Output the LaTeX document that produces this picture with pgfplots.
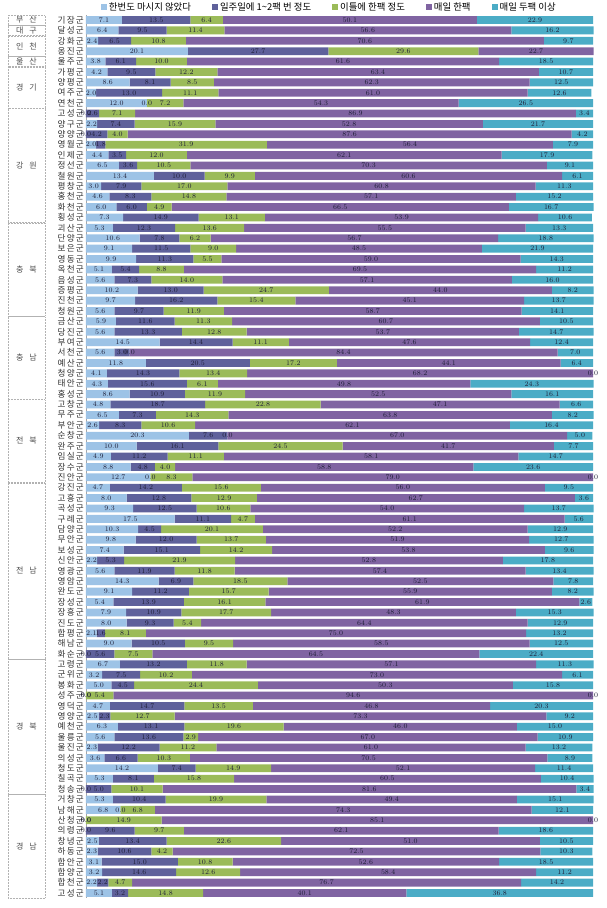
\documentclass[border=0pt]{standalone}
\usepackage{pgfplots}
\pgfplotsset{compat=1.18}
\usepackage{pgfplotstable}
\usepackage{fontspec}
\setmainfont{Noto Sans CJK KR}
\newfontfamily\krsp{Noto Sans CJK KR}[LetterSpace=14]
\newfontfamily\numfont{DejaVu Sans}[LetterSpace=16]
\definecolor{c1}{RGB}{157,195,230}
\definecolor{c2}{RGB}{95,97,155}
\definecolor{c3}{RGB}{155,187,89}
\definecolor{c4}{RGB}{128,100,162}
\definecolor{c5}{RGB}{75,172,198}
\definecolor{lbl}{RGB}{30,30,55}
\newcommand{\regbox}[4]{%
  \draw[gray!60, densely dotted, line width=0.5pt] (axis cs:-15.4,#1) rectangle (axis cs:-8.1,#2);
  \node[font=\fontsize{8pt}{9pt}\selectfont, text=black!70] at (axis cs:-11.75,#3) {#4};}
\pgfplotstableread{
idx name a b c d e
1 기장군 7.1 13.5 6.4 50.1 22.9
2 달성군 6.4 9.5 11.4 56.6 16.2
3 강화군 2.4 6.5 10.8 70.6 9.7
4 옹진군 20.1 27.7 29.6 22.7 0.0
5 울주군 3.8 6.1 10.0 61.6 18.5
6 가평군 4.2 9.5 12.2 63.4 10.7
7 양평군 8.6 8.1 8.5 62.3 12.5
8 여주군 2.0 13.0 11.1 61.0 12.6
9 연천군 12.0 0.0 7.2 54.3 26.5
10 고성군 0.0 2.6 7.1 86.9 3.4
11 양구군 2.2 7.4 15.9 52.8 21.7
12 양양군 0.0 4.2 4.0 87.6 4.2
13 영월군 2.0 1.8 31.9 56.4 7.9
14 인제군 4.4 3.5 12.0 62.1 17.9
15 정선군 6.5 3.6 10.5 70.3 9.1
16 철원군 13.4 10.0 9.9 60.6 6.1
17 평창군 3.0 7.9 17.0 60.8 11.3
18 홍천군 4.6 8.3 14.8 57.1 15.2
19 화천군 6.0 6.0 4.9 66.5 16.7
20 횡성군 7.3 14.9 13.1 53.9 10.6
21 괴산군 5.3 12.3 13.6 55.5 13.3
22 단양군 10.6 7.8 6.2 56.7 18.8
23 보은군 9.1 11.5 9.0 48.5 21.9
24 영동군 9.9 11.3 5.5 59.0 14.3
25 옥천군 5.1 5.4 8.8 69.5 11.2
26 음성군 5.6 7.3 14.0 57.1 16.0
27 증평군 10.2 13.0 24.7 44.0 8.2
28 진천군 9.7 16.2 15.4 45.1 13.7
29 청원군 5.6 9.7 11.9 58.7 14.1
30 금산군 5.9 11.6 11.3 60.7 10.5
31 당진군 5.6 13.3 12.8 53.7 14.7
32 부여군 14.5 14.4 11.1 47.6 12.4
33 서천군 5.6 3.0 0.0 84.4 7.0
34 예산군 11.8 20.5 17.2 44.1 6.4
35 청양군 4.1 14.3 13.4 68.2 0.0
36 태안군 4.3 15.6 6.1 49.8 24.3
37 홍성군 8.6 10.9 11.9 52.5 16.1
38 고창군 4.8 18.7 22.8 47.1 6.6
39 무주군 6.5 7.3 14.3 63.8 8.2
40 부안군 2.6 8.3 10.6 62.1 16.4
41 순창군 20.3 7.6 0.0 67.0 5.0
42 완주군 10.0 16.1 24.5 41.7 7.7
43 임실군 4.9 11.2 11.1 58.1 14.7
44 장수군 8.8 4.8 4.0 58.8 23.6
45 진안군 12.7 0.0 8.3 79.0 0.0
46 강진군 4.7 14.2 15.6 56.0 9.5
47 고흥군 8.0 12.8 12.9 62.7 3.6
48 곡성군 9.3 12.5 10.6 54.0 13.7
49 구례군 17.5 11.1 4.7 61.1 5.6
50 담양군 10.3 4.5 20.1 52.2 12.9
51 무안군 9.8 12.0 13.7 51.9 12.7
52 보성군 7.4 15.1 14.2 53.8 9.6
53 신안군 2.2 5.3 21.9 52.8 17.8
54 영광군 5.6 11.9 11.8 57.4 13.4
55 영암군 14.3 6.9 18.5 52.5 7.8
56 완도군 9.1 11.2 15.7 55.9 8.2
57 장성군 5.4 13.9 16.1 61.9 2.6
58 장흥군 7.9 10.9 17.7 48.3 15.3
59 진도군 8.0 9.3 5.4 64.4 12.9
60 함평군 2.1 1.6 8.1 75.0 13.2
61 해남군 9.0 10.5 9.5 58.5 12.5
62 화순군 0.0 5.6 7.5 64.5 22.4
63 고령군 6.7 13.2 11.8 57.1 11.3
64 군위군 3.2 7.5 10.2 73.0 6.1
65 봉화군 5.0 4.5 24.4 50.3 15.8
66 성주군 0.0 0.0 5.4 94.6 0.0
67 영덕군 4.7 14.7 13.5 46.8 20.3
68 영양군 2.5 2.3 12.7 73.3 9.2
69 예천군 6.3 13.1 19.6 46.0 15.0
70 울릉군 5.6 13.6 2.9 67.0 10.9
71 울진군 2.3 12.2 11.2 61.0 13.2
72 의성군 3.6 6.6 10.3 70.5 8.9
73 청도군 14.2 7.4 14.9 52.1 11.4
74 칠곡군 5.3 8.1 15.8 60.5 10.4
75 청송군 0.0 5.0 10.1 81.6 3.4
76 거창군 5.3 10.4 19.9 49.4 15.1
77 남해군 6.8 0.0 6.8 74.3 12.1
78 산청군 0.0 0.0 14.9 85.1 0.0
79 의령군 0.0 9.6 9.7 62.1 18.6
80 창녕군 2.5 13.4 22.6 51.0 10.5
81 하동군 2.3 10.6 4.2 72.5 10.3
82 함안군 3.1 15.0 10.8 52.6 18.5
83 함양군 3.2 14.6 12.6 58.4 11.2
84 합천군 2.2 2.2 4.7 76.7 14.2
85 고성군 5.1 3.2 14.8 40.1 36.8
}\datatable
% label positions: middle of each stacked segment
\pgfplotstablecreatecol[create col/expr={\thisrow{a}/2}]{ma}\datatable
\pgfplotstablecreatecol[create col/expr={\thisrow{a}+\thisrow{b}/2}]{mb}\datatable
\pgfplotstablecreatecol[create col/expr={\thisrow{a}+\thisrow{b}+\thisrow{c}/2}]{mc}\datatable
\pgfplotstablecreatecol[create col/expr={\thisrow{a}+\thisrow{b}+\thisrow{c}+\thisrow{d}/2}]{md}\datatable
\pgfplotstablecreatecol[create col/expr={\thisrow{a}+\thisrow{b}+\thisrow{c}+\thisrow{d}+\thisrow{e}/2}]{me}\datatable
\pgfplotsset{
  common/.style={
    scale only axis,
    width=507pt, height=883.4pt,
    xmin=0, xmax=100,
    ymin=0.5, ymax=85.5,
    y dir=reverse,
    enlarge x limits=false,
    enlarge y limits=false,
    clip=false,
  },
  lab/.style={draw=none, mark=none, point meta=explicit,
    nodes near coords,
    nodes near coords style={anchor=center, inner sep=0pt,
      font=\numfont\bfseries\fontsize{6.6pt}{7pt}\selectfont, text=lbl,
      /pgf/number format/.cd, fixed, fixed zerofill, precision=1}},
}
\begin{document}
\begin{tikzpicture}
\useasboundingbox (-86pt,-9.8pt) rectangle (520pt,898.2pt);
\begin{axis}[
  common,
  xbar stacked,
  bar width=7.8pt,
  axis x line=none,
  axis y line*=left,
  y axis line style={draw=gray!70, line width=0.6pt},
  ytick={1,...,85},
  yticklabels from table={\datatable}{name},
  yticklabel style={font=\krsp\fontsize{8.6pt}{9pt}\selectfont, text=black!80, inner xsep=2pt},
  major tick length=2pt,
  ytick style={draw=gray!70},
  legend columns=5,
  legend style={at={(0.48,1)}, anchor=south, yshift=1pt, draw=none, fill=none,
     font=\fontsize{9.4pt}{10pt}\selectfont, inner sep=0pt,
     /tikz/every even column/.append style={column sep=19pt}},
  legend image code/.code={\fill[#1,draw=none] (0pt,-3pt) rectangle (6pt,3pt);},
]
\addplot[fill=c1, draw=none] table[x=a, y=idx] {\datatable};
\addplot[fill=c2, draw=none] table[x=b, y=idx] {\datatable};
\addplot[fill=c3, draw=none] table[x=c, y=idx] {\datatable};
\addplot[fill=c4, draw=none] table[x=d, y=idx] {\datatable};
\addplot[fill=c5, draw=none] table[x=e, y=idx] {\datatable};
\legend{한번도 마시지 않았다, 일주일에 1\textasciitilde2팩 번 정도, 이틀에 한팩 정도, 매일 한팩, 매일 두팩 이상}
\regbox{0.53}{1.47}{1}{부\hspace{6pt}산}
\regbox{1.53}{2.47}{2}{대\hspace{6pt}구}
\regbox{2.53}{4.47}{3.5}{인\hspace{6pt}천}
\regbox{4.53}{5.47}{5}{울\hspace{6pt}산}
\regbox{5.53}{9.47}{7.5}{경\hspace{6pt}기}
\regbox{9.53}{20.47}{15}{강\hspace{6pt}원}
\regbox{20.53}{29.47}{25}{충\hspace{6pt}북}
\regbox{29.53}{37.47}{33.5}{충\hspace{6pt}남}
\regbox{37.53}{45.47}{41.5}{전\hspace{6pt}북}
\regbox{45.53}{62.47}{54}{전\hspace{6pt}남}
\regbox{62.53}{75.47}{69}{경\hspace{6pt}북}
\regbox{75.53}{85.47}{80.5}{경\hspace{6pt}남}
\end{axis}
\begin{axis}[common, hide axis]
\addplot[lab] table[x=ma, y=idx, meta=a] {\datatable};
\addplot[lab] table[x=mb, y=idx, meta=b] {\datatable};
\addplot[lab] table[x=mc, y=idx, meta=c] {\datatable};
\addplot[lab] table[x=md, y=idx, meta=d] {\datatable};
\addplot[lab, skip coords between index={3}{4}] table[x=me, y=idx, meta=e] {\datatable};
\end{axis}
\end{tikzpicture}
\end{document}
